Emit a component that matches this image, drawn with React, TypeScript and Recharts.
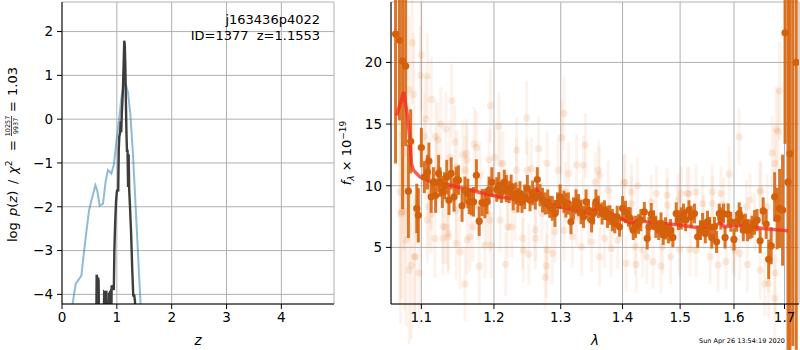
import { CartesianGrid, ComposedChart, ErrorBar, Line, Scatter, XAxis, YAxis } from "recharts";

const FONT = "'DejaVu Sans', sans-serif";

// left panel: log p(z)
const zPrior = [0.17, 0.19, 0.25, 0.354, 0.383, 0.432, 0.492, 0.536, 0.609, 0.645, 0.687, 0.748, 0.797, 0.839, 0.9, 0.948, 0.992, 1.039, 1.083, 1.125, 1.161, 1.203, 1.247, 1.294, 1.344, 1.386, 1.43, 1.46];
const logpPrior = [-4.9, -4.24, -3.76, -3.57, -3.23, -2.7, -2.09, -1.86, -1.51, -1.64, -1.98, -1.93, -1.41, -1.16, -1.24, -1.03, -0.5, -0.04, 0.49, 0.8, 0.81, 0.61, 0.11, -0.8, -2.02, -3.08, -4.15, -4.8];

const zChi = [0.625, 0.632, 0.64, 0.65, 0.658, 0.668, 0.675, 0.76, 0.77, 0.785, 0.795, 0.8, 0.81, 0.82, 0.855, 0.86, 0.875, 0.885, 0.9, 0.905, 0.93, 0.945, 0.955, 0.97, 0.985, 1.0, 1.015, 1.025, 1.035, 1.045, 1.06, 1.07, 1.08, 1.09, 1.11, 1.125, 1.135, 1.145, 1.155, 1.165, 1.175, 1.185, 1.195, 1.205, 1.215, 1.225, 1.24, 1.26, 1.28, 1.3, 1.315, 1.33, 1.345];
const logpChi = [-4.6, -3.55, -3.6, -3.75, -3.62, -3.7, -4.6, -4.6, -3.95, -3.97, -4.6, -3.95, -3.92, -4.6, -4.6, -3.98, -3.95, -4.6, -4.6, -3.82, -3.8, -3.9, -3.0, -2.35, -1.9, -1.65, -1.62, -1.65, -0.7, -0.4, -0.3, -0.05, -0.3, 0.1, 0.65, 1.3, 1.79, 1.7, 1.2, 0.4, -0.3, -0.75, -0.7, -1.55, -0.8, -1.6, -2.0, -2.6, -3.4, -4.05, -4.0, -4.15, -4.7];

const zTicks = [0, 1, 2, 3, 4];
const logpTicks = [-4, -3, -2, -1, 0, 1, 2];

// right panel: binned spectrum
const binLam = [1.0665, 1.0715, 1.0755, 1.0795, 1.083, 1.086, 1.094, 1.096, 1.1, 1.104, 1.108, 1.11, 1.113, 1.116, 1.119, 1.123, 1.125, 1.128, 1.131, 1.134, 1.137, 1.14, 1.144, 1.147, 1.15, 1.155, 1.159, 1.163, 1.165, 1.168, 1.171, 1.175, 1.179, 1.183, 1.187, 1.19, 1.193, 1.197, 1.204, 1.207, 1.211, 1.215, 1.218, 1.222, 1.225, 1.228, 1.232, 1.235, 1.238, 1.241, 1.245, 1.249, 1.253, 1.257, 1.261, 1.264, 1.268, 1.272, 1.276, 1.28, 1.283, 1.287, 1.291, 1.295, 1.299, 1.305, 1.308, 1.312, 1.316, 1.32, 1.324, 1.328, 1.332, 1.336, 1.34, 1.344, 1.349, 1.352, 1.356, 1.36, 1.366, 1.37, 1.375, 1.379, 1.383, 1.387, 1.391, 1.395, 1.4, 1.405, 1.41, 1.413, 1.418, 1.422, 1.427, 1.431, 1.437, 1.442, 1.445, 1.449, 1.453, 1.457, 1.462, 1.466, 1.47, 1.474, 1.479, 1.483, 1.487, 1.493, 1.497, 1.502, 1.506, 1.51, 1.516, 1.52, 1.526, 1.532, 1.537, 1.541, 1.546, 1.55, 1.554, 1.558, 1.563, 1.567, 1.572, 1.575, 1.58, 1.583, 1.589, 1.594, 1.6, 1.605, 1.61, 1.613, 1.618, 1.622, 1.626, 1.631, 1.635, 1.64, 1.645, 1.651, 1.657, 1.663, 1.668, 1.673, 1.68, 1.685, 1.69, 1.696, 1.701, 1.707, 1.711, 1.717, 1.724];
const binFlux = [22.3, 21.8, 20.1, 19.7, 9.56, 13.6, 8.16, 7.6, 13.1, 10.7, 11.1, 12.0, 9.1, 10.3, 9.2, 11.0, 10.3, 9.5, 10.0, 10.7, 8.83, 11.0, 9.1, 10.45, 10.45, 8.37, 9.64, 9.37, 8.7, 8.7, 8.7, 10.85, 7.13, 8.64, 8.56, 8.7, 9.64, 10.3, 9.7, 10.0, 9.5, 10.3, 9.78, 9.5, 9.9, 9.1, 9.37, 8.83, 9.37, 8.7, 9.1, 9.78, 8.83, 9.42, 8.97, 10.5, 9.23, 8.83, 8.56, 8.7, 8.29, 8.16, 7.75, 8.56, 9.1, 8.7, 8.42, 8.56, 7.07, 8.16, 8.7, 8.42, 7.88, 7.48, 8.7, 8.02, 7.21, 7.75, 8.7, 8.29, 7.75, 8.02, 7.48, 7.62, 7.21, 6.94, 7.48, 6.67, 8.16, 7.88, 7.48, 7.35, 6.4, 6.67, 6.89, 7.21, 7.88, 5.73, 6.67, 7.7, 7.21, 6.67, 6.4, 6.94, 6.0, 6.54, 6.13, 6.4, 5.81, 7.75, 7.21, 7.35, 7.75, 7.21, 8.02, 7.48, 7.75, 5.86, 6.4, 6.89, 6.13, 7.07, 6.67, 5.81, 6.67, 5.45, 7.75, 7.35, 7.75, 5.81, 7.67, 7.07, 5.65, 7.07, 7.75, 7.48, 6.4, 6.94, 6.4, 6.46, 6.67, 7.03, 7.21, 5.53, 7.96, 6.89, 4.03, 5.13, 9.1, 7.35, 8.16, 8.02, 22.4, 10.3, 12.6, 27, 20];
const binErr = [10.5, 6.5, 12, 6.5, 3.8, 2.6, 2.0, 2.2, 1.6, 1.3, 1.4, 1.5, 1.3, 1.2, 1.4, 1.5, 1.2, 1.3, 1.1, 1.4, 1.2, 1.3, 1.2, 1.1, 1.2, 1.3, 1.1, 1.2, 1.0, 1.1, 1.2, 1.3, 1.2, 1.1, 1.2, 1.0, 1.1, 1.2, 1.0, 1.1, 0.9, 1.0, 1.1, 0.9, 1.0, 1.1, 0.9, 1.0, 1.0, 0.9, 1.0, 1.1, 0.9, 1.0, 0.9, 1.0, 0.9, 1.0, 0.9, 1.0, 0.9, 1.0, 1.1, 0.9, 1.0, 0.9, 1.0, 0.9, 1.0, 0.9, 1.0, 0.9, 1.0, 0.9, 1.0, 0.9, 1.0, 0.9, 1.0, 0.9, 0.9, 0.8, 0.9, 0.8, 0.9, 0.8, 0.9, 0.8, 1.0, 0.9, 0.8, 0.9, 0.8, 0.9, 0.8, 0.9, 0.8, 0.9, 0.8, 0.9, 0.8, 0.9, 0.8, 0.9, 0.8, 0.9, 0.8, 0.9, 0.8, 0.9, 0.8, 0.9, 0.8, 0.9, 0.8, 0.9, 0.8, 0.9, 0.8, 0.9, 0.8, 0.9, 0.8, 0.9, 0.8, 0.9, 0.8, 0.9, 0.8, 0.9, 0.9, 0.8, 0.9, 0.8, 0.9, 0.8, 0.9, 0.8, 0.9, 0.8, 0.9, 1.0, 0.9, 1.0, 1.1, 1.2, 1.6, 1.5, 2.0, 2.5, 3.2, 4.5, 9, 25, 25, 30, 30];

// right panel: unbinned pixels
const rawLam = [1.088, 1.1, 1.099, 1.108, 1.113, 1.141, 1.195, 1.09, 1.084, 1.106, 1.126, 1.133, 1.076, 1.077, 1.104, 1.119, 1.175, 1.201, 1.156, 1.162, 1.148, 1.193, 1.072, 1.078, 1.073, 1.108, 1.113, 1.133, 1.136, 1.118, 1.129, 1.147, 1.152, 1.162, 1.17, 1.187, 1.08, 1.091, 1.087, 1.084, 1.097, 1.179, 1.159, 1.196, 1.161, 1.172, 1.122, 1.145, 1.138, 1.113, 1.19, 1.177, 1.248, 1.305, 1.301, 1.339, 1.207, 1.233, 1.266, 1.279, 1.325, 1.213, 1.249, 1.312, 1.355, 1.209, 1.226, 1.261, 1.291, 1.318, 1.349, 1.243, 1.251, 1.287, 1.217, 1.278, 1.276, 1.333, 1.231, 1.271, 1.344, 1.22, 1.307, 1.362, 1.376, 1.402, 1.425, 1.477, 1.502, 1.513, 1.529, 1.415, 1.449, 1.497, 1.37, 1.392, 1.406, 1.423, 1.441, 1.452, 1.466, 1.483, 1.499, 1.518, 1.421, 1.469, 1.362, 1.381, 1.61, 1.591, 1.69, 1.683, 1.687, 1.675, 1.541, 1.559, 1.575, 1.631, 1.651, 1.665, 1.555, 1.57, 1.585, 1.626, 1.651, 1.66, 1.668, 1.681, 1.611, 1.68, 1.598, 1.074, 1.092, 1.11, 1.12, 1.129, 1.136, 1.147, 1.159, 1.166, 1.18, 1.194, 1.209, 1.22, 1.233, 1.242, 1.255, 1.261, 1.279, 1.296, 1.305, 1.325, 1.336, 1.36, 1.379, 1.404, 1.415, 1.434, 1.458, 1.477, 1.495, 1.516, 1.529, 1.543, 1.559, 1.58, 1.602, 1.624, 1.64, 1.652, 1.668, 1.68];
const rawFlux = [21.6, 20.6, 18.95, 18.9, 17.0, 16.9, 16.5, 17.4, 17.8, 15.4, 15.0, 14.6, 14.1, 12.7, 14.0, 14.0, 13.1, 12.3, 12.5, 12.1, 11.5, 12.1, 9.5, 7.88, 7.75, 7.21, 7.7, 6.67, 6.13, 5.73, 5.73, 5.32, 4.64, 5.59, 6.67, 5.19, 5.59, 4.24, 3.57, 3.16, 2.94, 3.49, 2.03, 5.19, 12.6, 13.4, 13.7, 13.55, 12.3, 9.37, 7.75, 8.29, 15.5, 15.85, 13.9, 13.3, 14.8, 12.9, 13.0, 11.8, 11.7, 11.8, 11.26, 11.0, 10.3, 7.21, 6.67, 6.4, 6.26, 5.86, 5.45, 4.78, 4.46, 4.51, 3.62, 3.51, 2.57, 5.05, 8.02, 7.75, 7.48, 8.83, 9.5, 10.85, 9.64, 10.23, 10.0, 9.23, 9.37, 9.37, 9.5, 9.5, 8.7, 8.83, 5.73, 5.59, 3.7, 3.62, 4.24, 3.84, 3.49, 4.24, 4.84, 4.84, 5.05, 5.05, 4.24, 4.92, 13.96, 10.94, 17.7, 14.6, 14.4, 12.66, 8.56, 9.5, 9.37, 8.83, 9.5, 8.29, 4.24, 3.57, 3.84, 3.62, 3.16, 2.03, 2.09, 2.94, 4.51, 0.87, 5.05, 7.88, 4.24, 8.29, 11.26, 6.67, 5.86, 8.02, 11.26, 5.86, 10.85, 7.21, 11.8, 6.67, 11.26, 5.73, 11.4, 5.73, 4.78, 11.26, 6.4, 7.48, 11.66, 11.26, 7.48, 10.3, 8.56, 4.78, 9.37, 8.42, 7.75, 9.37, 4.78, 7.07, 8.56, 8.42, 4.78, 8.29, 7.07, 9.64, 3.97, 11.8];
const rawErr = [5, 4.5, 4, 3.5, 3.5, 3, 3, 5, 6, 3.5, 3, 3, 8, 8, 3.5, 3, 3, 2.5, 2.8, 2.8, 3, 2.5, 9, 8, 9, 3.5, 3.2, 3, 3, 3.2, 3, 3, 3, 2.8, 2.8, 2.7, 7, 5, 6, 6, 4.5, 3, 3, 2.7, 2.8, 3, 3, 3, 3, 3, 2.6, 2.7, 3, 3, 3, 2.6, 2.8, 2.6, 2.6, 2.6, 2.5, 2.6, 2.5, 2.5, 2.4, 2.6, 2.5, 2.5, 2.5, 2.5, 2.4, 2.6, 2.5, 2.5, 2.6, 2.6, 2.6, 2.4, 2.5, 2.5, 2.4, 2.5, 2.5, 2.4, 2.4, 2.3, 2.3, 2.2, 2.2, 2.2, 2.2, 2.3, 2.2, 2.2, 2.4, 2.3, 2.3, 2.3, 2.2, 2.2, 2.2, 2.2, 2.2, 2.2, 2.3, 2.2, 2.4, 2.3, 2.3, 2.2, 4, 3.5, 3.5, 3, 2.2, 2.2, 2.2, 2.2, 2.4, 2.6, 2.2, 2.2, 2.2, 2.2, 2.4, 2.6, 2.8, 3.2, 2.2, 3.5, 2.2, 7, 5, 3.2, 3, 3, 3, 2.8, 2.8, 2.8, 2.7, 2.6, 2.6, 2.5, 2.6, 2.5, 2.5, 2.5, 2.5, 2.5, 2.5, 2.4, 2.4, 2.4, 2.3, 2.3, 2.3, 2.2, 2.2, 2.2, 2.2, 2.2, 2.2, 2.2, 2.2, 2.2, 2.2, 2.2, 2.4, 2.4, 2.6, 2.8];

// right panel: best-fit model
const modelLam = [1.068, 1.077, 1.082, 1.0852, 1.087, 1.0896, 1.098, 1.116, 1.134, 1.157, 1.18, 1.204, 1.228, 1.248, 1.258, 1.264, 1.271, 1.279, 1.305, 1.33, 1.347, 1.358, 1.369, 1.386, 1.408, 1.419, 1.427, 1.441, 1.468, 1.5, 1.529, 1.559, 1.574, 1.582, 1.598, 1.624, 1.658, 1.691, 1.707];
const modelFlux = [15.7, 17.6, 15.6, 13.7, 11.8, 11.26, 10.72, 10.23, 10.13, 9.78, 9.45, 9.15, 8.93, 8.83, 9.1, 9.64, 8.97, 8.5, 8.24, 7.96, 7.75, 8.16, 7.96, 7.62, 7.07, 6.94, 7.21, 7.07, 6.94, 6.81, 6.62, 6.67, 6.99, 6.67, 6.78, 6.72, 6.54, 6.4, 6.34];

const lamTicks = [1.1, 1.2, 1.3, 1.4, 1.5, 1.6, 1.7];
const fluxTicks = [5, 10, 15, 20];

const rows = (xs: number[], ys: number[], es?: number[]) =>
  xs.map((x, i) => ({ x, y: ys[i], err: es ? es[i] : 0 }));

const priorData = rows(zPrior, logpPrior);
const chiData = rows(zChi, logpChi);
const binData = rows(binLam, binFlux, binErr);
const rawData = rows(rawLam, rawFlux, rawErr);
const modelData = rows(modelLam, modelFlux);

const minus = (v: number) => String(v).replace("-", "\u2212");
const tickStyle = { fill: "#000", fontSize: 13.5, fontFamily: FONT };

function PzYLabel(props: any) {
  const vb = props.viewBox;
  const cy = vb.y + vb.height / 2;
  // pieces of the mathtext label laid along the rotated baseline
  return (
    <g transform={`translate(${vb.x + 12}, ${cy}) rotate(-90)`} fontFamily={FONT} fill="#000" fontSize={13}>
      <text x={-89} y={4.5}>log</text>
      <text x={-63} y={4.5}>
        <tspan fontStyle="italic">p</tspan>(<tspan fontStyle="italic">z</tspan>)
      </text>
      <text x={-31} y={4.5}>/</text>
      <text x={-21} y={4.5}>
        <tspan fontStyle="italic">χ</tspan>
        <tspan fontSize={9} dy={-5}>2</tspan>
      </text>
      <text x={2} y={4.5}>=</text>
      <text x={27} y={-2.5} fontSize={6.5} textAnchor="middle">10257</text>
      <line x1={17} x2={37} y1={-0.5} y2={-0.5} stroke="#000" strokeWidth={0.7} />
      <text x={27} y={6} fontSize={6.5} textAnchor="middle">9937</text>
      <text x={41} y={4.5}>=</text>
      <text x={57} y={4.5}>1.03</text>
    </g>
  );
}

function ZLabel(props: any) {
  const vb = props.viewBox;
  const right = vb.x + vb.width - 14;
  const top = vb.y - 302;
  return (
    <g fontFamily={FONT} fill="#000">
      <text x={vb.x + vb.width / 2} y={vb.y + 41} fontSize={13.5} fontStyle="italic" textAnchor="middle">
        z
      </text>
      <text x={right} y={top + 22} fontSize={13} textAnchor="end">j163436p4022</text>
      <text x={right} y={top + 38} fontSize={13} textAnchor="end" style={{ whiteSpace: "pre" }}>
        ID=1377  z=1.1553
      </text>
    </g>
  );
}

function FluxYLabel(props: any) {
  const vb = props.viewBox;
  const cy = vb.y + vb.height / 2;
  return (
    <text transform={`translate(${vb.x + 12}, ${cy}) rotate(-90)`} y={4.5} fontSize={13} fontFamily={FONT} textAnchor="middle" fill="#000">
      <tspan fontStyle="italic">f</tspan>
      <tspan fontStyle="italic" fontSize={9} dy={3}>λ</tspan>
      <tspan dy={-3}> × 10</tspan>
      <tspan fontSize={9} dy={-5}>−19</tspan>
    </text>
  );
}

function LamLabel(props: any) {
  const vb = props.viewBox;
  return (
    <g fontFamily={FONT} fill="#000">
      <text x={vb.x + vb.width / 2} y={vb.y + 41} fontSize={13.5} fontStyle="italic" textAnchor="middle">λ</text>
      <text x={vb.x + vb.width - 57} y={vb.y + 38.5} fontSize={6.5} textAnchor="middle">
        Sun Apr 26 13:54:19 2020
      </text>
    </g>
  );
}

const rawDot = (p: any) => <circle cx={p.cx} cy={p.cy} r={3.6} fill="rgba(228,120,45,0.15)" />;
const binDot = (p: any) => <circle cx={p.cx} cy={p.cy} r={3.6} fill="#d5600c" />;

export default function App() {
  return (
    <div style={{ position: "absolute", left: 0, top: 0, width: 800, height: 350, background: "#fff", fontFamily: FONT }}>
      <div style={{ position: "absolute", left: 0, top: 0 }}>
        <ComposedChart width={340} height={350} margin={{ top: 2, right: 6, bottom: 0, left: 0 }}>
          <CartesianGrid stroke="#b0b0b0" strokeWidth={1} />
          <XAxis
            dataKey="x"
            type="number"
            domain={[0, 4.96]}
            ticks={zTicks}
            allowDataOverflow
            height={46}
            stroke="#000"
            tickSize={5}
            tickMargin={3}
            tick={tickStyle}
            label={ZLabel}
          />
          <XAxis xAxisId="top" orientation="top" type="number" domain={[0, 4.96]} height={0} tick={false} tickLine={false} stroke="#000" />
          <YAxis
            dataKey="y"
            type="number"
            domain={[-4.22, 2.675]}
            ticks={logpTicks}
            allowDataOverflow
            width={62}
            stroke="#000"
            tickSize={5}
            tickMargin={4}
            tick={tickStyle}
            tickFormatter={minus}
            label={PzYLabel}
          />
          <YAxis yAxisId="right" orientation="right" type="number" domain={[-4.22, 2.675]} width={0} tick={false} tickLine={false} stroke="#000" />
          <Line data={priorData} dataKey="y" type="linear" stroke="#1f77b4" strokeOpacity={0.5} strokeWidth={2} dot={false} isAnimationActive={false} />
          <Line data={chiData} dataKey="y" type="linear" stroke="#333333" strokeOpacity={0.95} strokeWidth={2.4} dot={false} isAnimationActive={false} />
        </ComposedChart>
      </div>
      <div style={{ position: "absolute", left: 334, top: 0 }}>
        <ComposedChart width={466} height={350} margin={{ top: 2, right: 1, bottom: 0, left: 0 }}>
          <CartesianGrid stroke="#b0b0b0" strokeWidth={1} />
          <XAxis
            dataKey="x"
            type="number"
            scale="log"
            domain={[1.0607, 1.7297]}
            ticks={lamTicks}
            allowDataOverflow
            height={46}
            stroke="#000"
            tickSize={5}
            tickMargin={3}
            tick={tickStyle}
            tickFormatter={(v: number) => v.toFixed(1)}
            label={LamLabel}
          />
          <XAxis xAxisId="top" orientation="top" type="number" scale="log" domain={[1.0607, 1.7297]} height={0} tick={false} tickLine={false} stroke="#000" />
          <YAxis
            dataKey="y"
            type="number"
            domain={[0.41, 24.9]}
            ticks={fluxTicks}
            allowDataOverflow
            width={57}
            stroke="#000"
            tickSize={5}
            tickMargin={4}
            tick={tickStyle}
            label={FluxYLabel}
          />
          <YAxis yAxisId="right" orientation="right" type="number" domain={[0.41, 24.9]} width={0} tick={false} tickLine={false} stroke="#000" />
          <Scatter data={rawData} dataKey="y" shape={rawDot} isAnimationActive={false}>
            <ErrorBar dataKey="err" direction="y" width={0} stroke="rgba(228,120,45,0.09)" strokeWidth={3} isAnimationActive={false} />
          </Scatter>
          <Scatter data={binData} dataKey="y" shape={binDot} isAnimationActive={false}>
            <ErrorBar dataKey="err" direction="y" width={0} stroke="rgba(214,98,10,0.88)" strokeWidth={3} isAnimationActive={false} />
          </Scatter>
          <Line data={modelData} dataKey="y" type="linear" stroke="#f52a1e" strokeOpacity={0.75} strokeWidth={3.5} dot={false} isAnimationActive={false} />
        </ComposedChart>
      </div>
    </div>
  );
}
